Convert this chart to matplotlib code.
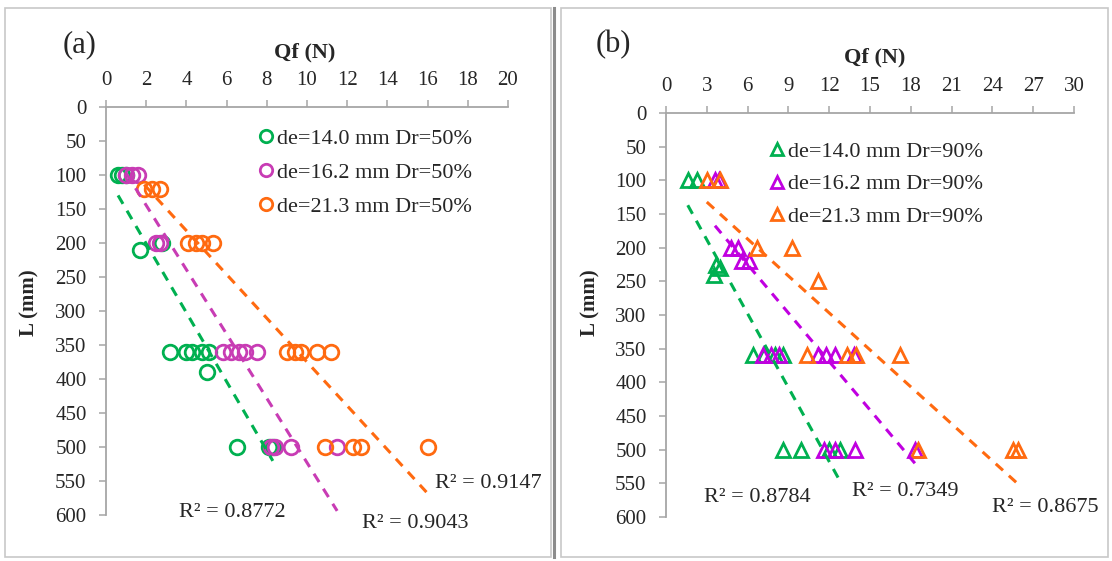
import matplotlib
matplotlib.use("Agg")
import matplotlib.pyplot as plt
from matplotlib.patches import Rectangle
from matplotlib.lines import Line2D
import numpy as np

plt.rcParams['font.family'] = ['Liberation Serif', 'DejaVu Serif']

# ---------------- data: panel (a), Dr = 50% ----------------
a_labels = ["de=14.0 mm Dr=50%", "de=16.2 mm Dr=50%", "de=21.3 mm Dr=50%"]
a_green_qf = [0.6, 0.8, 1.0, 2.8, 1.7, 3.2, 4.0, 4.3, 4.8, 5.1, 5.0, 6.5, 8.1, 8.3]
a_green_L = [100, 100, 100, 200, 210, 360, 360, 360, 360, 360, 390, 500, 500, 500]
a_mag_qf = [1.0, 1.3, 1.6, 2.5, 2.7, 5.8, 6.2, 6.6, 6.9, 7.5, 8.2, 8.4, 9.2, 11.5]
a_mag_L = [100, 100, 100, 200, 200, 360, 360, 360, 360, 360, 500, 500, 500, 500]
a_org_qf = [1.9, 2.3, 2.7, 4.1, 4.5, 4.8, 5.3, 9.0, 9.4, 9.7, 10.5, 11.2, 10.9, 12.3, 12.7, 16.0]
a_org_L = [120, 120, 120, 200, 200, 200, 200, 360, 360, 360, 360, 360, 500, 500, 500, 500]
a_trend_slope = [50.7, 47.3, 32.2]
a_trend_icpt = [99.6, 50.0, 53.0]
a_r2 = ["0.8772", "0.9043", "0.9147"]

# ---------------- data: panel (b), Dr = 90% ----------------
b_labels = ["de=14.0 mm Dr=90%", "de=16.2 mm Dr=90%", "de=21.3 mm Dr=90%"]
b_green_qf = [1.6, 2.3, 3.7, 4.0, 3.5, 6.4, 7.2, 8.0, 8.6, 8.6, 9.9, 12.0, 12.8]
b_green_L = [100, 100, 225, 230, 240, 360, 360, 360, 360, 500, 500, 500, 500]
b_mag_qf = [3.6, 3.9, 4.8, 5.3, 5.6, 6.1, 7.1, 7.7, 8.3, 11.2, 11.8, 12.4, 13.8, 11.6, 12.4, 13.9, 18.3]
b_mag_L = [100, 100, 200, 200, 220, 220, 360, 360, 360, 360, 360, 360, 360, 500, 500, 500, 500]
b_org_qf = [3.0, 4.0, 6.7, 9.3, 11.2, 10.4, 13.3, 14.0, 17.2, 18.5, 25.5, 25.9]
b_org_L = [100, 100, 200, 200, 250, 360, 360, 360, 360, 500, 500, 500]
b_trend_slope = [36.6, 24.0, 18.3]
b_trend_icpt = [78.4, 81.0, 77.3]
b_r2 = ["0.8784", "0.7349", "0.8675"]

a_xticks = list(range(0, 21, 2))
b_xticks = list(range(0, 31, 3))
yticks = list(range(0, 601, 50))

GREEN = '#00b050'
MAG_A = '#c83cb4'
MAG_B = '#c000e0'
ORANGE = '#ff6a10'
AXC = '#a6a6a6'
TXT = '#262626'

W, H = 1112, 561
fig = plt.figure(figsize=(W / 100, H / 100), dpi=100)


def px_axes(l, r, t, b):
    return fig.add_axes([l / W, 1 - b / H, (r - l) / W, (b - t) / H])


# panel frames
fig.add_artist(Rectangle((5 / W, 1 - 557 / H), (551 - 5) / W, (557 - 8) / H,
                         transform=fig.transFigure, fill=False, ec='#c8c8c8', lw=1.2))
fig.add_artist(Rectangle((561 / W, 1 - 557 / H), (1108 - 561) / W, (557 - 8) / H,
                         transform=fig.transFigure, fill=False, ec='#c8c8c8', lw=1.2))
fig.add_artist(Line2D([553.5 / W, 553.5 / W], [1 - 557 / H, 1 - 8 / H],
                      transform=fig.transFigure, color='#8c8c8c', lw=2.2))


def style_axes(ax, xmax, xticks):
    ax.set_xlim(0, xmax)
    ax.set_ylim(600, 0)
    ax.xaxis.tick_top()
    ax.set_xticks(xticks)
    ax.set_yticks(yticks)
    for s in ['right', 'bottom']:
        ax.spines[s].set_visible(False)
    for s in ['top', 'left']:
        ax.spines[s].set_color(AXC)
        ax.spines[s].set_linewidth(1.3)
    ax.tick_params(axis='both', direction='out', length=5, width=1.1, color=AXC,
                   labelsize=15, labelcolor=TXT)
    ax.tick_params(axis='x', pad=7.5)
    ax.tick_params(axis='y', pad=9)
    ax.set_facecolor('none')


def draw_panel(ax, series, colors, marker, ms, slopes, icpts, labels, r2s, r2pos):
    for (qf, L), c, lab in zip(series, colors, labels):
        ax.plot(qf, L, linestyle='none', marker=marker, ms=ms, mfc='none', mec=c,
                mew=2.0, label=lab, clip_on=False)
    for (qf, L), c, m, b in zip(series, colors, slopes, icpts):
        xs = np.array([min(qf), max(qf)])
        ax.plot(xs, m * xs + b, color=c, lw=2.2, linestyle=(0, (3.2, 2.6)), clip_on=False)
    for txt, (x, y) in zip(r2s, r2pos):
        ax.text(x, y, "R² = " + txt, ha='center', va='center', fontsize=16,
                color=TXT, clip_on=False)


# ---------------- panel (a) ----------------
axa = px_axes(106, 508, 107, 515)
style_axes(axa, 20, a_xticks)
draw_panel(axa,
           [(a_green_qf, a_green_L), (a_mag_qf, a_mag_L), (a_org_qf, a_org_L)],
           [GREEN, MAG_A, ORANGE], 'o', 10.5, a_trend_slope, a_trend_icpt,
           a_labels, a_r2, [(6.3, 597), (15.4, 612), (19.0, 553)])
axa.legend(loc='upper left', bbox_to_anchor=((258 - 106) / 402, 1 - (128 - 107) / 408),
           frameon=False, fontsize=16, handlelength=0.7, handletextpad=0.15,
           labelspacing=0.62, borderpad=0, borderaxespad=0, markerscale=0.85,
           labelcolor=TXT)

# ---------------- panel (b) ----------------
axb = px_axes(666, 1074, 113, 517)
style_axes(axb, 30, b_xticks)
draw_panel(axb,
           [(b_green_qf, b_green_L), (b_mag_qf, b_mag_L), (b_org_qf, b_org_L)],
           [GREEN, MAG_B, ORANGE], '^', 10, b_trend_slope, b_trend_icpt,
           b_labels, b_r2, [(6.7, 571), (17.6, 562), (27.9, 586)])
axb.legend(loc='upper left', bbox_to_anchor=((769 - 666) / 408, 1 - (141 - 113) / 404),
           frameon=False, fontsize=16, handlelength=0.7, handletextpad=0.15,
           labelspacing=0.55, borderpad=0, borderaxespad=0, markerscale=0.85,
           labelcolor=TXT)

# titles and labels
fig.text(305 / W, 1 - 52 / H, "Qf (N)", ha='center', va='center', fontsize=16,
         fontweight='bold', color=TXT)
fig.text(875 / W, 1 - 57 / H, "Qf (N)", ha='center', va='center', fontsize=16,
         fontweight='bold', color=TXT)
fig.text(29 / W, 1 - 303 / H, "L (mm)", ha='center', va='center', rotation=90,
         fontsize=15, fontweight='bold', color=TXT)
fig.text(590 / W, 1 - 303 / H, "L (mm)", ha='center', va='center', rotation=90,
         fontsize=15, fontweight='bold', color=TXT)
fig.text(80 / W, 1 - 45 / H, "(a)", ha='center', va='center', fontsize=22, color=TXT)
fig.text(613 / W, 1 - 45 / H, "(b)", ha='center', va='center', fontsize=22, color=TXT)

fig.savefig("out.png", dpi=100)
